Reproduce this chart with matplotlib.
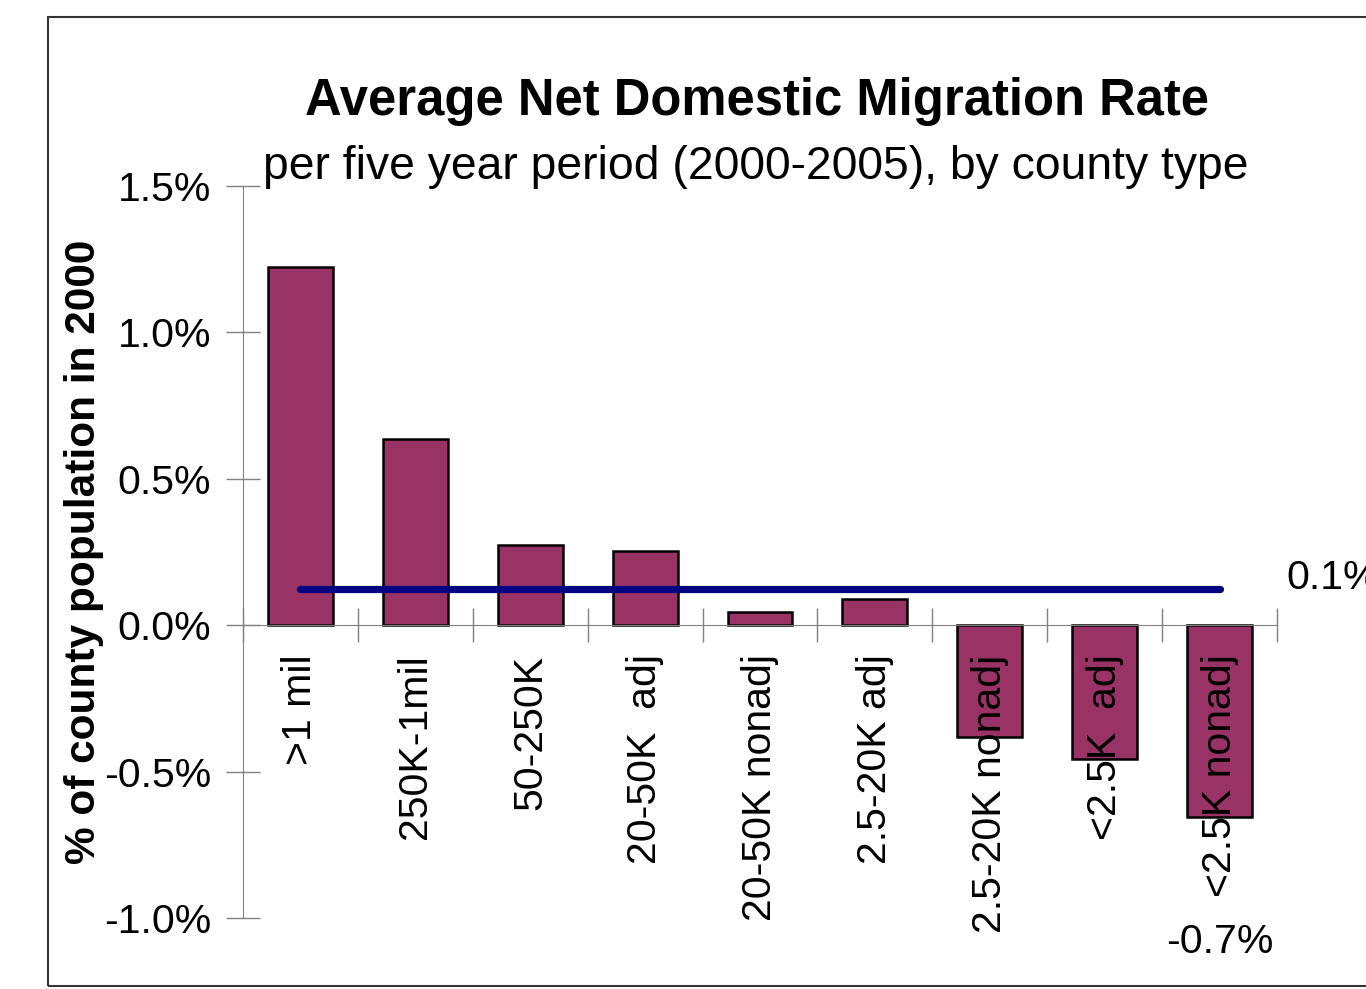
import numpy as np
import matplotlib.pyplot as plt
from matplotlib.patches import Rectangle

plt.rcParams['font.family'] = ['Liberation Sans', 'DejaVu Sans']

# Data
categories = ['>1 mil', '250K-1mil', '50-250K', '20-50K  adj', '20-50K nonadj',
              '2.5-20K adj', '2.5-20K nonadj', '<2.5K  adj', '<2.5K nonadj']
rates = [1.225, 0.635, 0.273, 0.253, 0.044, 0.089, -0.382, -0.457, -0.655]
average = 0.123
yticks = [-1.0, -0.5, 0.0, 0.5, 1.0, 1.5]

fig = plt.figure(figsize=(13.66, 9.89), dpi=100)
ax = fig.add_axes([243 / 1366, 1 - 918 / 989, (1277 - 243) / 1366, (918 - 186) / 989])

x = np.arange(len(categories))
ax.bar(x, rates, width=0.565, color='#993366', edgecolor='black', linewidth=1.8, zorder=2)

# Average line across the county types
ax.plot([x[0], x[-1]], [average, average], color='#000080', linewidth=5.2,
        solid_capstyle='round', zorder=3)

ax.set_xlim(-0.5, len(categories) - 0.5)
ax.set_ylim(-1.0, 1.5)

# Axes styling
for side in ['top', 'right']:
    ax.spines[side].set_visible(False)
ax.spines['bottom'].set_position(('data', 0))
ax.spines['left'].set_color('#808080')
ax.spines['bottom'].set_color('#808080')

ax.set_yticks(yticks)
ax.set_yticklabels([f'{v:.1f}%' for v in yticks], fontsize=29.5)
ax.tick_params(axis='y', direction='inout', length=24, width=1, color='#808080', pad=11)

ax.set_xticks(np.arange(len(categories) + 1) - 0.5)
ax.set_xticklabels([])
ax.tick_params(axis='x', direction='inout', length=24, width=1, color='#808080')

# Category labels, rotated, hanging below the zero line
for xi, lab in zip(x, categories):
    ax.text(xi, -0.1, lab, rotation=90, ha='center', va='top', fontsize=29.5, zorder=4)

# Data labels
ax.text(8.58, 0.16, '0.1%', fontsize=29.5, ha='left', va='center', clip_on=False)
ax.text(8.0, -1.082, '-0.7%', fontsize=29.5, ha='center', va='center', clip_on=False)

ax.set_ylabel('% of county population in 2000', fontsize=30.5, fontweight='bold')
ax.yaxis.set_label_coords(-0.134, 0.5)

# Titles
fig.text(757 / 1366, 1 - 102 / 989, 'Average Net Domestic Migration Rate',
         fontsize=36.5, fontweight='bold', ha='center', va='center')
fig.text(756 / 1366, 1 - 167 / 989, 'per five year period (2000-2005), by county type',
         fontsize=33.3, ha='center', va='center')

# Chart area border
fig.patches.append(Rectangle((48 / 1366, 1 - 986 / 989), 1.1, (986 - 17) / 989,
                             transform=fig.transFigure, fill=False,
                             edgecolor='#333333', linewidth=1.5, clip_on=False))

fig.savefig('out.png', dpi=100)
